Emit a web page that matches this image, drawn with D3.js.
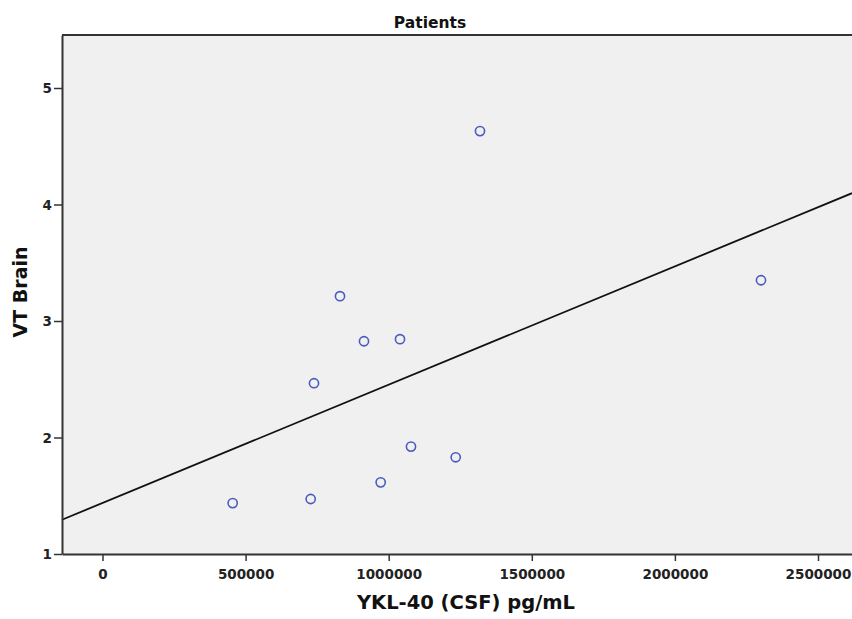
<!DOCTYPE html>
<html><head><meta charset="utf-8">
<script src="https://cdn.jsdelivr.net/npm/d3@7"></script>
<style>body{margin:0;background:#fff;} text{font-family:"DejaVu Sans",Verdana,sans-serif;}</style>
</head><body>
<svg id="c" width="852" height="619"></svg>
<script>
const ykl40 = [1319000, 2300800, 829800, 913700, 1039500, 739000, 1077900, 1234100, 972000, 727400, 454900];
const vtBrain = [4.63, 3.35, 3.213, 2.826, 2.844, 2.466, 1.922, 1.83, 1.615, 1.472, 1.437];
const xTicks = [0, 500000, 1000000, 1500000, 2000000, 2500000];
const yTicks = [1, 2, 3, 4, 5];

const svg = d3.select("#c");
const L = 62, R = 852, T = 35, B = 554;
const x = d3.scaleLinear().domain([-141500, 2618800]).range([L, R]);
const y = d3.scaleLinear().domain([1, 5.455]).range([B, T]);
const FONT = "'DejaVu Sans',Verdana,sans-serif";

svg.append("rect").attr("x", L).attr("y", T).attr("width", R - L).attr("height", B - T).attr("fill", "#f0f0f0");

// regression (OLS)
const n = ykl40.length;
const mx = d3.mean(ykl40), my = d3.mean(vtBrain);
let sxy = 0, sxx = 0;
for (let i = 0; i < n; i++) { sxy += (ykl40[i] - mx) * (vtBrain[i] - my); sxx += (ykl40[i] - mx) ** 2; }
const slope = sxy / sxx, icpt = my - slope * mx;
const xd = x.domain();
svg.append("line").attr("x1", x(xd[0])).attr("y1", y(icpt + slope * xd[0]))
  .attr("x2", x(xd[1])).attr("y2", y(icpt + slope * xd[1]))
  .attr("stroke", "#111").attr("stroke-width", 1.8);

svg.selectAll("circle.pt").data(d3.range(n)).enter().append("circle")
  .attr("cx", i => x(ykl40[i])).attr("cy", i => y(vtBrain[i])).attr("r", 4.6)
  .attr("fill", "none").attr("stroke", "#4b5bbd").attr("stroke-width", 1.6);

// frame
svg.append("line").attr("x1", L).attr("x2", R).attr("y1", T).attr("y2", T).attr("stroke", "#333").attr("stroke-width", 2);

const xa = svg.append("g").attr("transform", `translate(0,${B})`)
  .call(d3.axisBottom(x).tickValues(xTicks).tickFormat(d3.format("d")).tickSize(7).tickSizeOuter(0));
const ya = svg.append("g").attr("transform", `translate(${L},0)`)
  .call(d3.axisLeft(y).tickValues(yTicks).tickFormat(d3.format("d")).tickSize(8).tickSizeOuter(0));
[xa, ya].forEach(a => {
  a.select(".domain").attr("stroke", "#333").attr("stroke-width", 2);
  a.selectAll(".tick line").attr("stroke", "#333").attr("stroke-width", 1.5);
  a.selectAll(".tick text").attr("fill", "#222").style("font-size", "13.5px").style("font-weight", "bold")
   .style("font-family", FONT);
});
xa.selectAll(".tick text").attr("y", 25).attr("dy", null);
ya.selectAll(".tick text").attr("x", -10).attr("dy", "0.36em");

svg.append("text").attr("x", 430).attr("y", 28).attr("text-anchor", "middle")
  .style("font-size", "15.5px").style("font-weight", "bold").attr("fill", "#111").text("Patients");
svg.append("text").attr("x", 466).attr("y", 609).attr("text-anchor", "middle")
  .style("font-size", "19.5px").style("font-weight", "bold").attr("fill", "#111").text("YKL-40 (CSF) pg/mL");
svg.append("text").attr("transform", "translate(27,292) rotate(-90)").attr("text-anchor", "middle")
  .style("font-size", "19px").style("font-weight", "bold").attr("fill", "#111").text("VT Brain");
</script>
</body></html>
